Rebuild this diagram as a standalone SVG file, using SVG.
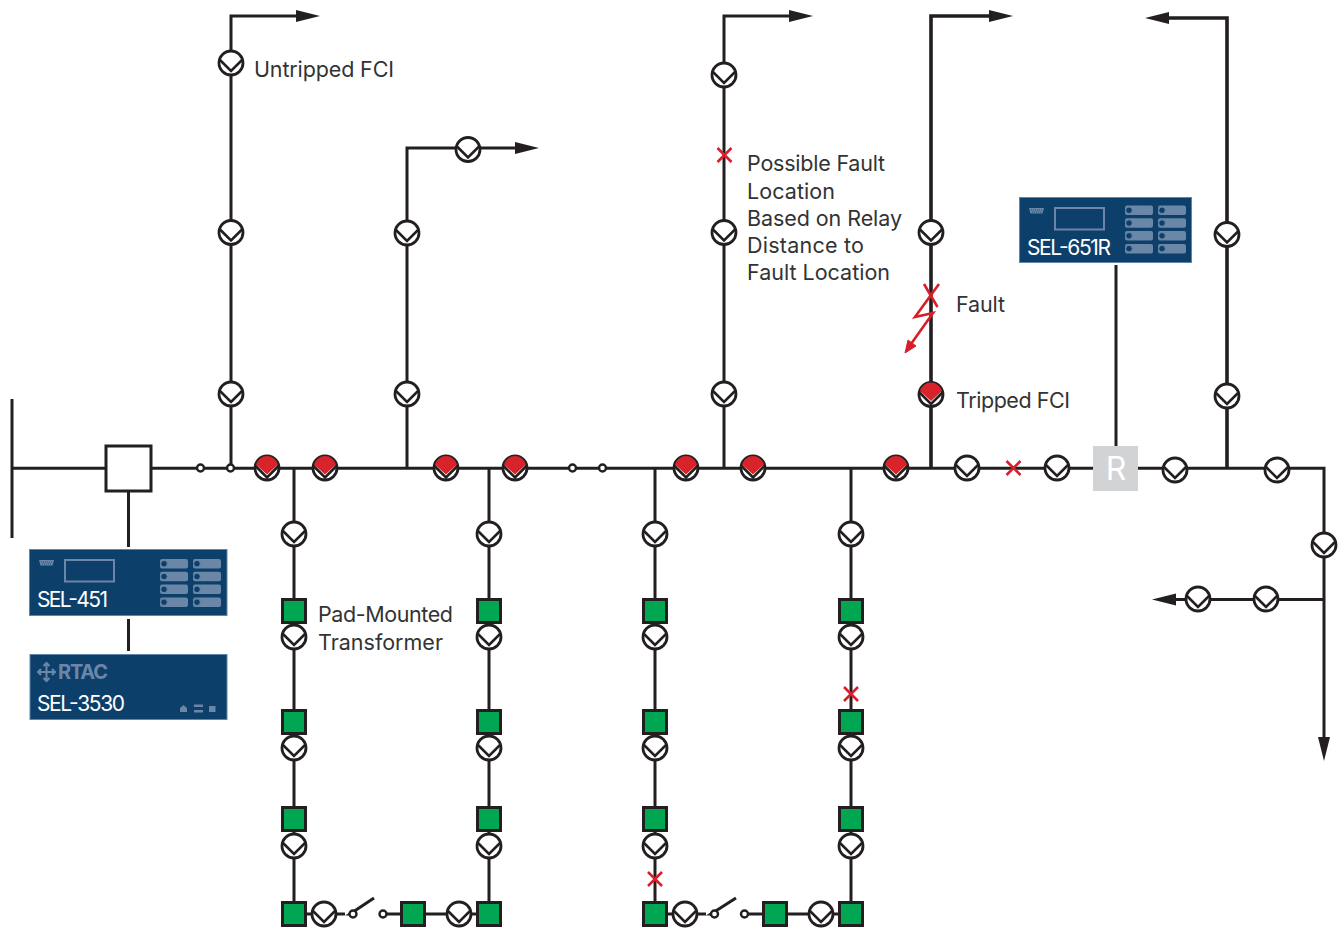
<svg xmlns="http://www.w3.org/2000/svg" width="1340" height="928" viewBox="0 0 1340 928">
<style>
.w{fill:none;stroke:#231f20;stroke-width:3}
.t{fill:none;stroke:#231f20;stroke-width:3.6}
.c{font-family:Inter,"Liberation Sans",sans-serif;font-size:21.500px;fill:#333}
.d{font-family:Inter,"Liberation Sans",sans-serif;font-size:21px;fill:#fff}
.b{fill:#0d3f6b;stroke:#5f86ab;stroke-width:1}
.x{fill:none;stroke:#d71f2b;stroke-width:2.6}
.p{fill:#6a87a8}
</style>
<defs>
<marker id="ah" markerUnits="userSpaceOnUse" markerWidth="26" markerHeight="14" refX="0" refY="7" orient="auto"><path d="M0,1 L24,7 L0,13Z" fill="#231f20"/></marker>
<g id="fci"><circle r="12" fill="#fff" stroke="#231f20" stroke-width="2.8"/><path d="M-11,-3 L0,8 L11,-3" fill="none" stroke="#231f20" stroke-width="2.6"/></g>
<g id="tfci"><circle r="12" fill="#fff" stroke="#231f20" stroke-width="2.800"/><path d="M-11,-3.500 A11.400,11.400 0 0 1 11,-3.500 L0,6.500Z" fill="#d8232a"/><path d="M-11.500,-2 L0,9.500 L11.500,-2" fill="none" stroke="#231f20" stroke-width="2.600"/></g>
<rect id="pm" x="-11.500" y="-11.500" width="23" height="23" fill="#00a651" stroke="#231f20" stroke-width="3"/>
<circle id="sw" r="3.500" fill="#fff" stroke="#231f20" stroke-width="2.400"/>
<path id="rx" class="x" d="M-7,-7 L7,7 M7,-7 L-7,7"/>
<g id="pill"><rect width="28" height="9.500" rx="2" class="p"/><circle cx="4" cy="4.750" r="3.300" fill="#0d3f6b" stroke="#6a87a8" stroke-width="1"/></g>
<g id="pills">
<use href="#pill" y="0"/><use href="#pill" y="12.800"/><use href="#pill" y="25.600"/><use href="#pill" y="38.400"/>
<use href="#pill" x="33" y="0"/><use href="#pill" x="33" y="12.800"/><use href="#pill" x="33" y="25.600"/><use href="#pill" x="33" y="38.400"/>
</g>
<g id="panel"><path d="M10,11 h15 l-1.500,5.500 h-12Z" class="p"/><path d="M12,13 h11 M13,15 h9" stroke="#0d3f6b" stroke-width=".8" stroke-dasharray="1 1" fill="none"/><rect x="36" y="11" width="49" height="21.500" fill="none" stroke="#6a87a8" stroke-width="2"/></g>
</defs>

<g id="connectors">
<path class="w" d="M12,399 V538"/>
<path class="w" d="M12,468.300 H106 M151,468.300 H1093 M1138,468.300 H1324 V737" marker-end="url(#ah)"/>
<path class="w" d="M128.500,491 V547 M128.500,619 V651"/>
<path class="w" d="M231,468 V16 H296" marker-end="url(#ah)"/>
<path class="w" d="M407,468 V148 H515" marker-end="url(#ah)"/>
<path class="w" d="M724,468 V16 H789" marker-end="url(#ah)"/>
<path class="t" d="M931,468 V16 H989" marker-end="url(#ah)"/>
<path class="t" d="M1227,468 V18 H1169" marker-end="url(#ah)"/>
<path class="w" d="M1116,265 V446"/>
<path class="w" d="M1324,599.500 H1176" marker-end="url(#ah)"/>
<path class="w" d="M294,468 V914 H345 M357,914 H350 L374,898 M387,914 H489 V468"/>
<path class="w" d="M655,468 V914 H706 M718,914 H711 L736,898 M748,914 H851 V468"/>
</g>

<g id="breaker"><rect x="106" y="446" width="45" height="45" fill="#fff" stroke="#231f20" stroke-width="3"/></g>
<g id="recloser"><rect x="1093" y="446" width="45" height="45" fill="#d1d3d4"/><text x="1116" y="480" text-anchor="middle" font-family="Inter,'Liberation Sans',sans-serif" font-size="32" fill="#fff">R</text></g>

<g id="switches">
<use href="#sw" x="200.500" y="468"/><use href="#sw" x="230.500" y="468"/><use href="#sw" x="572.500" y="468"/><use href="#sw" x="602.500" y="468"/>
<use href="#sw" x="353" y="914"/><use href="#sw" x="383" y="914"/><use href="#sw" x="714.500" y="914"/><use href="#sw" x="744.500" y="914"/>
</g>

<g id="fci-branch-1"><use href="#fci" x="231" y="63"/><use href="#fci" x="231" y="232.500"/><use href="#fci" x="231" y="394"/></g>
<g id="fci-branch-2"><use href="#fci" x="468" y="149.500"/><use href="#fci" x="407" y="233"/><use href="#fci" x="407" y="394"/></g>
<g id="fci-branch-3"><use href="#fci" x="724" y="75"/><use href="#fci" x="724" y="232.500"/><use href="#fci" x="724" y="394"/></g>
<g id="fci-branch-4"><use href="#fci" x="931" y="232.500"/><use href="#tfci" x="931" y="394.500"/></g>
<g id="fci-branch-5"><use href="#fci" x="1227" y="234.500"/><use href="#fci" x="1227" y="396"/></g>
<g id="fci-bus-tripped">
<use href="#tfci" x="267" y="468"/><use href="#tfci" x="325" y="468"/><use href="#tfci" x="446" y="468"/><use href="#tfci" x="515" y="468"/><use href="#tfci" x="686" y="468"/><use href="#tfci" x="753" y="468"/><use href="#tfci" x="896" y="468"/>
</g>
<g id="fci-bus-normal">
<use href="#fci" x="967" y="468"/><use href="#fci" x="1057" y="468"/><use href="#fci" x="1175" y="470"/><use href="#fci" x="1277" y="470"/><use href="#fci" x="1324" y="545"/><use href="#fci" x="1198" y="599"/><use href="#fci" x="1266" y="599"/>
</g>

<g id="lateral-1"><use href="#fci" x="294" y="534"/><use href="#pm" x="294" y="611"/><use href="#fci" x="294" y="637"/><use href="#pm" x="294" y="722"/><use href="#fci" x="294" y="748"/><use href="#pm" x="294" y="819"/><use href="#fci" x="294" y="846"/><use href="#pm" x="294" y="914"/><use href="#fci" x="324" y="914"/></g>
<g id="lateral-2"><use href="#fci" x="489" y="534"/><use href="#pm" x="489" y="611"/><use href="#fci" x="489" y="637"/><use href="#pm" x="489" y="722"/><use href="#fci" x="489" y="748"/><use href="#pm" x="489" y="819"/><use href="#fci" x="489" y="846"/><use href="#pm" x="413" y="914"/><use href="#fci" x="459" y="914"/><use href="#pm" x="489" y="914"/></g>
<g id="lateral-3"><use href="#fci" x="655" y="534"/><use href="#pm" x="655" y="611"/><use href="#fci" x="655" y="637"/><use href="#pm" x="655" y="722"/><use href="#fci" x="655" y="748"/><use href="#pm" x="655" y="819"/><use href="#fci" x="655" y="846"/><use href="#pm" x="655" y="914"/><use href="#fci" x="685" y="914"/></g>
<g id="lateral-4"><use href="#fci" x="851" y="534"/><use href="#pm" x="851" y="611"/><use href="#fci" x="851" y="637"/><use href="#pm" x="851" y="722"/><use href="#fci" x="851" y="748"/><use href="#pm" x="851" y="819"/><use href="#fci" x="851" y="846"/><use href="#pm" x="775" y="914"/><use href="#fci" x="821" y="914"/><use href="#pm" x="851" y="914"/></g>

<g id="faults">
<use href="#rx" x="724.500" y="155"/><use href="#rx" x="1013.500" y="468"/><use href="#rx" x="655" y="879"/><use href="#rx" x="851" y="694"/>
<path class="x" d="M924,284 L937.500,307 M939,284 L915,317 L933,313 L911,344"/>
<path d="M905,353 L908,340 L916,346Z" fill="#d71f2b" stroke="#d71f2b"/>
</g>

<g id="sel-451"><rect class="b" x="29.500" y="549.500" width="197.500" height="66"/><use href="#panel" x="29" y="549"/><use href="#pills" x="160" y="559"/><text class="d" x="37" y="607" textLength="71">SEL-451</text></g>
<g id="sel-3530"><rect class="b" x="30" y="654.500" width="197" height="65"/>
<path d="M38,672 H55 M46.500,663 V681 M43.500,666 L46.500,663 L49.500,666 M43.500,678 L46.500,681 L49.500,678 M41,669 L38,672 L41,675 M52,669 L55,672 L52,675" fill="none" stroke="#6a87a8" stroke-width="2"/>
<text x="58" y="679" font-family="Inter,'Liberation Sans',sans-serif" font-weight="700" font-size="20" fill="#6a87a8" textLength="50">RTAC</text>
<text class="d" x="37" y="711" textLength="88">SEL-3530</text>
<path d="M180,712 V708 L183.500,705 L187,708 V712Z M194,704.500 H203 V707 H194Z M194,710 H203 V712.500 H194Z M209,706 H215.500 V712 H209Z" class="p"/>
</g>
<g id="sel-651r"><rect class="b" x="1019.500" y="197.500" width="172" height="65"/><use href="#panel" x="1019" y="197"/><use href="#pills" x="1125" y="205.500"/><text class="d" x="1027" y="255" textLength="84">SEL-651R</text></g>

<g id="labels">
<text class="c" x="254" y="77" textLength="140">Untripped FCI</text>
<text class="c" x="747" y="171" textLength="138">Possible Fault</text>
<text class="c" x="747" y="199" textLength="88">Location</text>
<text class="c" x="747" y="226" textLength="155">Based on Relay</text>
<text class="c" x="747" y="253" textLength="117">Distance to</text>
<text class="c" x="747" y="280" textLength="143">Fault Location</text>
<text class="c" x="956" y="312" textLength="49">Fault</text>
<text class="c" x="956" y="408" textLength="114">Tripped FCI</text>
<text class="c" x="318" y="622" textLength="135">Pad-Mounted</text>
<text class="c" x="318" y="650" textLength="125">Transformer</text>
</g>
</svg>
